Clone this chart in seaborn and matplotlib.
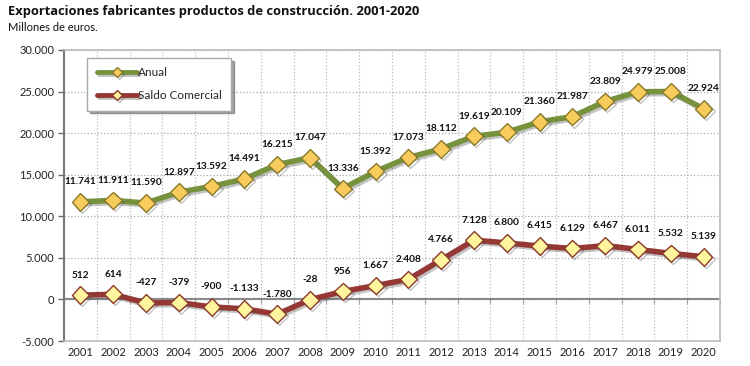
import numpy as np
import pandas as pd
import matplotlib
matplotlib.use("Agg")
import matplotlib.pyplot as plt
import matplotlib.patheffects as pe
from matplotlib.ticker import FuncFormatter, NullFormatter
import seaborn as sns

sns.set_style("white")
plt.rcParams['font.family'] = ['Lato', 'DejaVu Sans']

# Data (millones de euros)
years = list(range(2001, 2021))
anual = [11741, 11911, 11590, 12897, 13592, 14491, 16215, 17047, 13336, 15392,
         17073, 18112, 19619, 20109, 21360, 21987, 23809, 24979, 25008, 22924]
saldo = [512, 614, -427, -379, -900, -1133, -1780, -28, 956, 1667,
         2408, 4766, 7128, 6800, 6415, 6129, 6467, 6011, 5532, 5139]

df = pd.DataFrame({'year': years, 'Anual': anual, 'Saldo Comercial': saldo})

green = '#76923C'
red = '#953735'

fig = plt.figure(figsize=(7.5, 3.66), dpi=100)
ax = fig.add_axes([0.0853, 0.0683, 0.8747, 0.7951])

shadow = [pe.SimpleLineShadow(offset=(1.5, -1.5), alpha=0.35, shadow_color='#555555'), pe.Normal()]

sns.lineplot(data=df, x='year', y='Anual', ax=ax, color=green, linewidth=4,
             marker='D', markersize=9, markerfacecolor='#F7CB5C',
             markeredgecolor='#8A7A2A', markeredgewidth=1, label='Anual',
             path_effects=shadow, zorder=3)
sns.lineplot(data=df, x='year', y='Saldo Comercial', ax=ax, color=red, linewidth=4,
             marker='D', markersize=9, markerfacecolor='#FFF59E',
             markeredgecolor='#8B3A2A', markeredgewidth=1, label='Saldo Comercial',
             path_effects=shadow, zorder=3)

def fmt(v):
    return f"{v:,.0f}".replace(",", ".")

for x, y in zip(years, anual):
    ax.annotate(fmt(y), (x, y), xytext=(0, 14.5), textcoords='offset points',
                ha='center', va='center', fontsize=7.3, fontweight='bold', color='#111111')
for x, y in zip(years, saldo):
    ax.annotate(fmt(y), (x, y), xytext=(0, 14.5), textcoords='offset points',
                ha='center', va='center', fontsize=7.3, fontweight='bold', color='#111111')

ax.set_xlim(2000.5, 2020.5)
ax.set_ylim(-5000, 30000)
ax.set_yticks(np.arange(-5000, 30001, 5000))
ax.yaxis.set_major_formatter(FuncFormatter(lambda v, p: fmt(v)))
ax.set_xticks(years)
ax.set_xticks(np.arange(2000.5, 2020.6, 0.5), minor=True)
ax.set_xlabel('')
ax.set_ylabel('')

ax.grid(axis='y', which='major', color='#AAAAAA', linestyle=':', linewidth=0.9)
ax.grid(axis='x', which='minor', color='#BBBBBB', linestyle=':', linewidth=0.9)
ax.axhline(0, color='#888888', linewidth=1.5, zorder=2)

ax.tick_params(axis='y', which='major', direction='out', length=4, width=1,
               color='#666666', labelsize=8, pad=3, left=True)
ax.tick_params(axis='x', which='both', length=0, labelsize=8, pad=4)
for lab in ax.get_xticklabels() + ax.get_yticklabels():
    lab.set_color('#222222')

for side in ['top', 'right', 'bottom']:
    ax.spines[side].set_color('#BBBBBB')
    ax.spines[side].set_linewidth(1.2)
ax.spines['left'].set_color('#777777')
ax.spines['left'].set_linewidth(1.5)

# ticks on the zero line at category boundaries
sec = ax.secondary_xaxis(5000 / 35000)
sec.set_xticks(np.arange(2000.5, 2020.6, 1.0))
sec.xaxis.set_major_formatter(NullFormatter())
sec.tick_params(direction='out', length=3, color='#888888')
sec.spines['bottom'].set_visible(False)
sec.spines['top'].set_visible(False)
sec.xaxis.set_ticks_position('bottom')

leg = ax.legend(loc='upper left', bbox_to_anchor=(0.030, 0.985), frameon=True,
                fancybox=False, shadow=True, fontsize=8.5, handlelength=3.4,
                borderpad=0.8, labelspacing=1.0, handletextpad=0.1,
                borderaxespad=0.3)
leg.get_frame().set_edgecolor('#AAAAAA')
for h in leg.get_lines():
    h.set_markersize(5)
    h.set_linewidth(3.5)

fig.text(0.011, 0.968, 'Exportaciones fabricantes productos de construcción. 2001-2020',
         fontsize=9.3, fontweight='bold', va='center', ha='left', color='#111111',
         family=['Open Sans', 'DejaVu Sans'])
fig.text(0.011, 0.924, 'Millones de euros.', fontsize=8, va='center', ha='left', color='#111111')

fig.savefig('out.png', dpi=100, facecolor='white')
